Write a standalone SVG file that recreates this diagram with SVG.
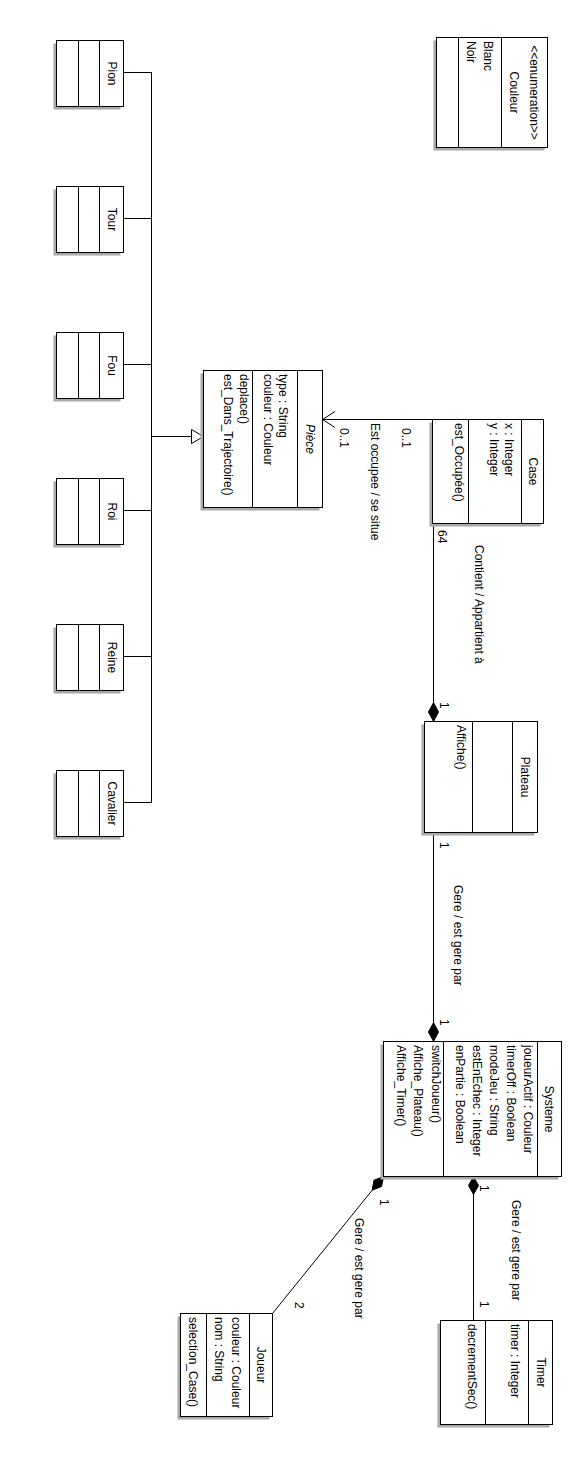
<svg xmlns="http://www.w3.org/2000/svg" width="585" height="1464" viewBox="0 0 585 1464">
<style>
.bg{fill:#fff}
.box{fill:#fff;stroke:#000;stroke-width:1}
.sh{fill:#a8a8a8}
.dv{stroke:#000;stroke-width:1}
.t{font-family:"Liberation Sans",Arial,sans-serif;font-size:12px;fill:#000}
.c{text-anchor:middle}
.i{font-style:italic}
.ln{stroke:#000;stroke-width:1;fill:none}
.dia{fill:#000;stroke:#000;stroke-width:1}
.tri{fill:#fff;stroke:#000;stroke-width:1}
</style>
<rect class="bg" x="0" y="0" width="585" height="1464"/>

<g id="connectors">
  <!-- generalization tree -->
  <line class="ln" x1="123" y1="72.5" x2="151.5" y2="72.5"/>
  <line class="ln" x1="123" y1="218.5" x2="151.5" y2="218.5"/>
  <line class="ln" x1="123" y1="364.5" x2="151.5" y2="364.5"/>
  <line class="ln" x1="123" y1="510.5" x2="151.5" y2="510.5"/>
  <line class="ln" x1="123" y1="656.5" x2="151.5" y2="656.5"/>
  <line class="ln" x1="123" y1="802.5" x2="151.5" y2="802.5"/>
  <line class="ln" x1="151.5" y1="72" x2="151.5" y2="803"/>
  <line class="ln" x1="151.5" y1="436.5" x2="191" y2="436.5"/>
  <polygon class="tri" points="191.5,429.5 203.5,436.5 191.5,443.5"/>
  <!-- Case - Piece -->
  <line class="ln" x1="322.5" y1="419.5" x2="432.5" y2="419.5"/>
  <polyline class="ln" points="335,411.5 322.5,419.5 335,427.5"/>
  <text class="t" x="402" y="428" transform="rotate(90 402 428)">0..1</text>
  <text class="t" x="371" y="423" transform="rotate(90 371 423)">Est occupee / se situe</text>
  <text class="t" x="340" y="428" transform="rotate(90 340 428)">0..1</text>
  <!-- Case - Plateau -->
  <line class="ln" x1="433.5" y1="523.5" x2="433.5" y2="703"/>
  <polygon class="dia" points="433.5,702.5 438.5,712 433.5,721.5 428.5,712"/>
  <text class="t" x="438" y="530" transform="rotate(90 438 530)">64</text>
  <text class="t" x="475" y="545" transform="rotate(90 475 545)">Contient / Appartient à</text>
  <text class="t" x="440" y="702" transform="rotate(90 440 702)">1</text>
  <!-- Plateau - Systeme -->
  <line class="ln" x1="433.5" y1="832.5" x2="433.5" y2="1023"/>
  <polygon class="dia" points="433.5,1022.5 438.5,1032 433.5,1041.5 428.5,1032"/>
  <text class="t" x="440" y="842" transform="rotate(90 440 842)">1</text>
  <text class="t" x="454" y="885" transform="rotate(90 454 885)">Gere / est gere par</text>
  <text class="t" x="440" y="1019" transform="rotate(90 440 1019)">1</text>
  <!-- Systeme - Timer -->
  <polygon class="dia" points="473.5,1176.5 478.5,1185.5 473.5,1194.5 468.5,1185.5"/>
  <line class="ln" x1="473.5" y1="1194" x2="473.5" y2="1320.5"/>
  <text class="t" x="480" y="1185" transform="rotate(90 480 1185)">1</text>
  <text class="t" x="512" y="1200" transform="rotate(90 512 1200)">Gere / est gere par</text>
  <text class="t" x="480" y="1301" transform="rotate(90 480 1301)">1</text>
  <!-- Systeme - Joueur -->
  <polygon class="dia" points="383.5,1176.5 381.6,1186.5 372.2,1190.2 374,1180.2"/>
  <line class="ln" x1="372.2" y1="1190.2" x2="272.5" y2="1313.5"/>
  <text class="t" x="380" y="1199" transform="rotate(90 380 1199)">1</text>
  <text class="t" x="355" y="1218" transform="rotate(90 355 1218)">Gere / est gere par</text>
  <text class="t" x="295" y="1302" transform="rotate(90 295 1302)">2</text>
</g>

<g id="Couleur">
  <rect class="sh" x="433.5" y="40.5" width="111" height="110"/>
  <rect class="box" x="436.5" y="37.5" width="111" height="110"/>
  <line class="dv" x1="501.5" y1="37.5" x2="501.5" y2="147.5"/>
  <line class="dv" x1="458.5" y1="37.5" x2="458.5" y2="147.5"/>
  <text class="t c" x="530" y="92.5" transform="rotate(90 530 92.5)">&lt;&lt;enumeration&gt;&gt;</text>
  <text class="t c" x="510" y="92.5" transform="rotate(90 510 92.5)">Couleur</text>
  <text class="t" x="484" y="41" transform="rotate(90 484 41)">Blanc</text>
  <text class="t" x="467" y="41" transform="rotate(90 467 41)">Noir</text>
</g>

<g id="Pion">
  <rect class="sh" x="53.5" y="43.5" width="67" height="66"/>
  <rect class="box" x="56.5" y="40.5" width="67" height="66"/>
  <line class="dv" x1="99.5" y1="40.5" x2="99.5" y2="106.5"/>
  <line class="dv" x1="78.5" y1="40.5" x2="78.5" y2="106.5"/>
  <text class="t c" x="108" y="73.5" transform="rotate(90 108 73.5)">Pion</text>
</g>
<g id="Tour">
  <rect class="sh" x="53.5" y="189.5" width="67" height="66"/>
  <rect class="box" x="56.5" y="186.5" width="67" height="66"/>
  <line class="dv" x1="99.5" y1="186.5" x2="99.5" y2="252.5"/>
  <line class="dv" x1="78.5" y1="186.5" x2="78.5" y2="252.5"/>
  <text class="t c" x="108" y="219.5" transform="rotate(90 108 219.5)">Tour</text>
</g>
<g id="Fou">
  <rect class="sh" x="53.5" y="335.5" width="67" height="66"/>
  <rect class="box" x="56.5" y="332.5" width="67" height="66"/>
  <line class="dv" x1="99.5" y1="332.5" x2="99.5" y2="398.5"/>
  <line class="dv" x1="78.5" y1="332.5" x2="78.5" y2="398.5"/>
  <text class="t c" x="108" y="365.5" transform="rotate(90 108 365.5)">Fou</text>
</g>
<g id="Roi">
  <rect class="sh" x="53.5" y="481.5" width="67" height="66"/>
  <rect class="box" x="56.5" y="478.5" width="67" height="66"/>
  <line class="dv" x1="99.5" y1="478.5" x2="99.5" y2="544.5"/>
  <line class="dv" x1="78.5" y1="478.5" x2="78.5" y2="544.5"/>
  <text class="t c" x="108" y="511.5" transform="rotate(90 108 511.5)">Roi</text>
</g>
<g id="Reine">
  <rect class="sh" x="53.5" y="627.5" width="67" height="66"/>
  <rect class="box" x="56.5" y="624.5" width="67" height="66"/>
  <line class="dv" x1="99.5" y1="624.5" x2="99.5" y2="690.5"/>
  <line class="dv" x1="78.5" y1="624.5" x2="78.5" y2="690.5"/>
  <text class="t c" x="108" y="657.5" transform="rotate(90 108 657.5)">Reine</text>
</g>
<g id="Cavalier">
  <rect class="sh" x="53.5" y="773.5" width="67" height="66"/>
  <rect class="box" x="56.5" y="770.5" width="67" height="66"/>
  <line class="dv" x1="99.5" y1="770.5" x2="99.5" y2="836.5"/>
  <line class="dv" x1="78.5" y1="770.5" x2="78.5" y2="836.5"/>
  <text class="t c" x="108" y="803.5" transform="rotate(90 108 803.5)">Cavalier</text>
</g>

<g id="Piece">
  <rect class="sh" x="200.5" y="373.5" width="119" height="137"/>
  <rect class="box" x="203.5" y="370.5" width="119" height="137"/>
  <line class="dv" x1="297.5" y1="370.5" x2="297.5" y2="507.5"/>
  <line class="dv" x1="252.5" y1="370.5" x2="252.5" y2="507.5"/>
  <text class="t c i" x="306" y="439" transform="rotate(90 306 439)">Pièce</text>
  <text class="t" x="279" y="374" transform="rotate(90 279 374)">type : String</text>
  <text class="t" x="264" y="374" transform="rotate(90 264 374)">couleur : Couleur</text>
  <text class="t" x="240" y="374" transform="rotate(90 240 374)">deplace()</text>
  <text class="t" x="224" y="374" transform="rotate(90 224 374)">est_Dans_Trajectoire()</text>
</g>

<g id="Case">
  <rect class="sh" x="429.5" y="422.5" width="111" height="104"/>
  <rect class="box" x="432.5" y="419.5" width="111" height="104"/>
  <line class="dv" x1="521.5" y1="419.5" x2="521.5" y2="523.5"/>
  <line class="dv" x1="468.5" y1="419.5" x2="468.5" y2="523.5"/>
  <text class="t c" x="529" y="471.5" transform="rotate(90 529 471.5)">Case</text>
  <text class="t" x="505" y="423" transform="rotate(90 505 423)">x : Integer</text>
  <text class="t" x="490" y="423" transform="rotate(90 490 423)">y : Integer</text>
  <text class="t" x="455" y="423" transform="rotate(90 455 423)">est_Occupée()</text>
</g>

<g id="Plateau">
  <rect class="sh" x="421.5" y="724.5" width="113" height="111"/>
  <rect class="box" x="424.5" y="721.5" width="113" height="111"/>
  <line class="dv" x1="512.5" y1="721.5" x2="512.5" y2="832.5"/>
  <line class="dv" x1="472.5" y1="721.5" x2="472.5" y2="832.5"/>
  <text class="t c" x="521" y="777" transform="rotate(90 521 777)">Plateau</text>
  <text class="t" x="457" y="725" transform="rotate(90 457 725)">Affiche()</text>
</g>

<g id="Systeme">
  <rect class="sh" x="380.5" y="1044.5" width="178" height="135"/>
  <rect class="box" x="383.5" y="1041.5" width="178" height="135"/>
  <line class="dv" x1="537.5" y1="1041.5" x2="537.5" y2="1176.5"/>
  <line class="dv" x1="443.5" y1="1041.5" x2="443.5" y2="1176.5"/>
  <text class="t c" x="545" y="1109" transform="rotate(90 545 1109)">Systeme</text>
  <text class="t" x="524" y="1045" transform="rotate(90 524 1045)">joueurActif : Couleur</text>
  <text class="t" x="507" y="1045" transform="rotate(90 507 1045)">timerOff : Boolean</text>
  <text class="t" x="490" y="1045" transform="rotate(90 490 1045)">modeJeu : String</text>
  <text class="t" x="473" y="1045" transform="rotate(90 473 1045)">estEnEchec : Integer</text>
  <text class="t" x="456" y="1045" transform="rotate(90 456 1045)">enPartie : Boolean</text>
  <text class="t" x="432" y="1045" transform="rotate(90 432 1045)">switchJoueur()</text>
  <text class="t" x="414" y="1045" transform="rotate(90 414 1045)">Affiche_Plateau()</text>
  <text class="t" x="397" y="1045" transform="rotate(90 397 1045)">Affiche_Timer()</text>
</g>

<g id="Joueur">
  <rect class="sh" x="177.5" y="1316.5" width="92" height="103"/>
  <rect class="box" x="180.5" y="1313.5" width="92" height="103"/>
  <line class="dv" x1="249.5" y1="1313.5" x2="249.5" y2="1416.5"/>
  <line class="dv" x1="206.5" y1="1313.5" x2="206.5" y2="1416.5"/>
  <text class="t c" x="257" y="1365" transform="rotate(90 257 1365)">Joueur</text>
  <text class="t" x="232" y="1317" transform="rotate(90 232 1317)">couleur : Couleur</text>
  <text class="t" x="215" y="1317" transform="rotate(90 215 1317)">nom : String</text>
  <text class="t" x="189" y="1317" transform="rotate(90 189 1317)">selection_Case()</text>
</g>

<g id="Timer">
  <rect class="sh" x="437.5" y="1323.5" width="112" height="104"/>
  <rect class="box" x="440.5" y="1320.5" width="112" height="104"/>
  <line class="dv" x1="528.5" y1="1320.5" x2="528.5" y2="1424.5"/>
  <line class="dv" x1="485.5" y1="1320.5" x2="485.5" y2="1424.5"/>
  <text class="t c" x="537" y="1372.5" transform="rotate(90 537 1372.5)">Timer</text>
  <text class="t" x="511" y="1324" transform="rotate(90 511 1324)">timer : Integer</text>
  <text class="t" x="468" y="1324" transform="rotate(90 468 1324)">decrementSec()</text>
</g>
</svg>
